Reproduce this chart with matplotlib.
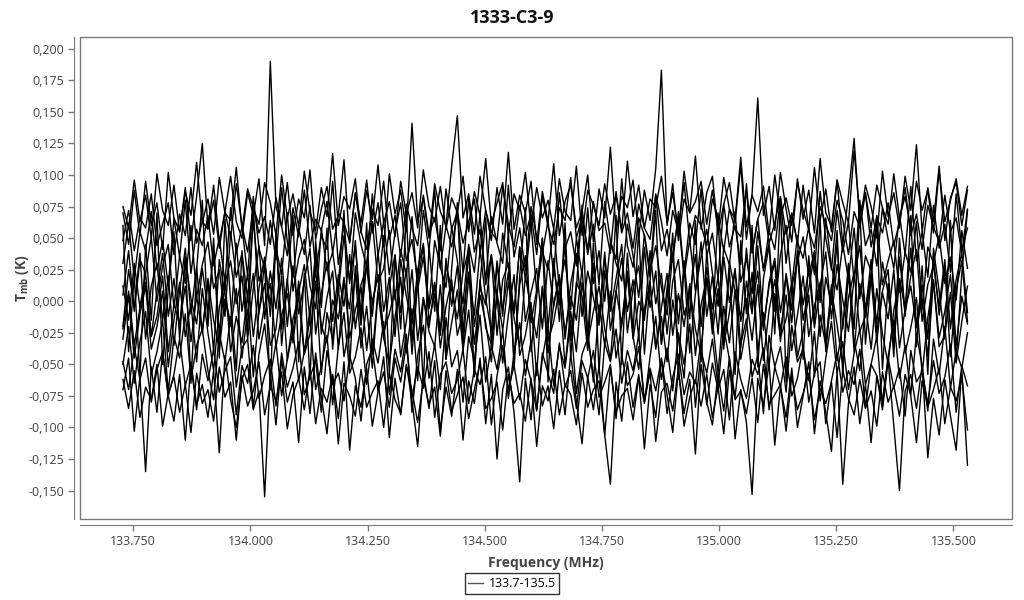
import matplotlib
matplotlib.use("Agg")
import matplotlib.pyplot as plt
from matplotlib.patches import Rectangle
from matplotlib.ticker import FuncFormatter
import numpy as np

plt.rcParams['font.family'] = ['Open Sans', 'DejaVu Sans']
plt.rcParams['mathtext.fontset'] = 'custom'
plt.rcParams['mathtext.rm'] = 'Open Sans'
plt.rcParams['mathtext.bf'] = 'Open Sans:bold'

# channel grid of the spectra (MHz)
f_start = 133.728
f_end = 135.530

# antenna temperature of each scan, in mK
scan1 = [70, 45, 88, 52, 95, 60, 78, 41, 102, 66, 55, 90, 48, 83, 125,
         58, 92, 47, 71, 99, 63, 50, 86, 68, 97, 44, 190, 75, 59, 94,
         52, 81, 66, 104, 49, 73, 91, 57, 68, 112, 46, 85, 62, 96, 54,
         78, 43, 101, 69, 88, 55, 141, 64, 82, 50, 93, 71, 60, 107, 147,
         66, 85, 53, 99, 72, 48, 90, 61, 118, 57, 84, 70, 95, 45, 87,
         63, 109, 52, 79, 92, 58, 71, 100, 47, 89, 66, 122, 55, 83, 74,
         96, 51, 88, 64, 105, 183, 60, 93, 48, 81, 70, 115, 57, 86, 99,
         53, 77, 94, 62, 108, 49, 85, 161, 68, 91, 56, 102, 73, 47, 97,
         65, 88, 54, 113, 70, 59, 96, 45, 84, 129, 61, 92, 75, 50, 103,
         67, 86, 58, 99, 72, 124, 55, 90, 63, 107, 48, 82, 94, 60, 88]
scan2 = [30, 62, 18, 55, 40, 71, 25, 48, 12, 66, 35, 80, 22, 57, 44,
         68, 28, 50, 15, 74, 38, 59, 20, 83, 42, 26, 64, 33, 90, 47,
         19, 58, 37, 76, 24, 52, 41, 95, 29, 61, 14, 70, 45, 27, 85,
         36, 63, 21, 54, 78, 32, 49, 17, 72, 40, 88, 26, 60, 43, 69,
         23, 81, 39, 57, 16, 67, 46, 30, 92, 35, 58, 24, 75, 51, 38,
         64, 20, 86, 42, 55, 28, 73, 37, 61, 13, 79, 48, 33, 97, 44,
         27, 66, 52, 19, 84, 40, 57, 31, 71, 22, 62, 45, 89, 36, 54,
         18, 77, 43, 60, 29, 93, 38, 65, 24, 56, 41, 82, 30, 69, 47,
         34, 59, 21, 87, 50, 25, 72, 39, 63, 16, 80, 44, 57, 28, 74,
         49, 26, 68, 37, 91, 32, 55, 19, 76, 42, 61, 23, 85, 40, 58]
scan3 = [5, 40, -8, 33, 22, 51, 0, 28, 45, -5, 36, 14, 60, 3, 29,
         47, 10, 25, -12, 55, 19, 38, 2, 64, 16, 31, -3, 42, 21, 70,
         8, 34, 49, 12, -6, 58, 24, 39, 6, 52, 17, 44, -10, 30, 63,
         15, 26, 56, 1, 41, 20, 67, 9, 35, -4, 48, 27, 11, 59, 32,
         -2, 45, 23, 69, 13, 37, 4, 54, 28, -9, 43, 18, 62, 7, 39,
         25, 57, 10, 33, -7, 50, 21, 74, 14, 40, 0, 47, 30, 16, 61,
         36, 3, 53, 24, 44, 11, -11, 38, 65, 19, 49, 8, 35, 57, 22,
         -4, 42, 29, 71, 15, 34, 6, 55, 26, 46, -8, 37, 60, 12, 31,
         51, 20, 40, -1, 66, 27, 9, 45, 17, 58, 2, 36, 24, 68, 13,
         32, 48, 7, 39, 23, 63, -6, 43, 30, 52, 14, 35, 1, 56, 26]
scan4 = [-20, 25, -5, 38, -30, 12, 30, -15, 20, -35, 8, 42, -10, 27, -25,
         15, -40, 33, 5, -18, 46, -8, 22, -28, 10, 35, -12, 52, -22, 18,
         -33, 7, 29, -14, 40, -26, 3, 24, -38, 16, -6, 48, -19, 31, -2,
         21, -30, 11, 37, -9, 26, -42, 14, 44, -16, 6, -27, 34, -4, 28,
         -36, 19, -11, 41, 2, -24, 32, -7, 23, -45, 13, 36, -17, 9, 50,
         -21, 27, -3, 45, -31, 15, 4, -39, 30, -13, 39, -23, 8, 34, -8,
         17, -29, 43, -5, 24, -34, 11, 38, -18, 28, -41, 6, 47, -12, 20,
         -26, 35, -1, 26, -37, 16, -10, 44, -20, 12, 31, -32, 22, -7, 40,
         -15, 10, 37, -28, 19, -3, 46, -22, 29, -40, 14, -9, 33, -25, 8,
         25, -35, 18, -6, 42, -19, 13, -30, 36, -11, 27, -44, 9, 32, -16]
scan5 = [-30, 5, -45, -10, 12, -38, -20, 8, -52, -15, 15, -28, -2, -48, 10,
         -25, -55, -5, 18, -40, -12, -33, 6, -60, -8, 14, -35, -22, 20, -47,
         -14, 3, -42, -26, 16, -58, -9, -31, 11, -44, -18, 22, -37, -4, -53,
         7, -29, -50, -13, 19, -41, -6, -63, 2, -24, -36, 13, -46, -17, 9,
         -39, -7, -56, 17, -21, -34, 4, -49, -11, 21, -43, -27, -1, -59, 12,
         -32, -16, 10, -51, -8, -40, 15, -23, -64, -3, -35, 8, -45, -19, 24,
         -28, -54, -6, 14, -37, -12, -48, 1, -30, -61, 11, -22, -42, 18, -15,
         -57, -4, -33, 9, -46, -20, 23, -39, -9, -52, 6, -29, -14, 16, -44,
         -24, 5, -60, -11, -35, 13, -47, -18, 20, -31, -55, -2, -38, 10, -26,
         -50, -7, 15, -41, -21, 3, -58, -13, 17, -36, -27, 7, -49, -16, 12]
scan6 = [-50, -20, -65, -32, -8, -58, -40, -15, -72, -28, -45, -10, -62, -35, -22,
         -55, -78, -25, -48, -12, -68, -37, -30, -85, -42, -18, -60, -33, -75, -46,
         -24, -63, -40, -14, -70, -52, -27, -82, -36, -9, -57, -44, -21, -66, -30,
         -49, -16, -74, -38, -56, -26, -88, -43, -19, -61, -34, -70, -13, -52, -39,
         -80, -28, -47, -11, -64, -35, -54, -23, -77, -41, -17, -59, -31, -86, -45,
         -20, -67, -36, -53, -15, -73, -42, -29, -58, -90, -33, -48, -22, -65, -39,
         -55, -26, -81, -44, -12, -62, -37, -71, -25, -50, -18, -84, -40, -57, -30,
         -68, -21, -46, -76, -34, -14, -60, -43, -89, -27, -52, -36, -72, -19, -48,
         -38, -63, -24, -79, -45, -16, -57, -32, -70, -41, -22, -66, -50, -28, -83,
         -44, -15, -61, -35, -74, -26, -51, -87, -30, -58, -20, -69, -39, -53, -25]
scan7 = [-70, -45, -103, -60, -135, -52, -88, -40, -75, -95, -58, -110, -48, -82, -66,
         -92, -55, -120, -43, -78, -100, -62, -50, -86, -71, -155, -57, -98, -46, -80,
         -64, -112, -52, -89, -41, -76, -105, -59, -93, -48, -118, -67, -84, -53, -99,
         -72, -44, -108, -61, -90, -50, -79, -115, -56, -85, -47, -102, -68, -91, -54,
         -110, -63, -81, -45, -97, -58, -125, -70, -52, -88, -143, -61, -94, -49, -83,
         -67, -101, -55, -90, -42, -79, -113, -60, -86, -51, -106, -145, -64, -95, -48,
         -84, -58, -117, -66, -92, -46, -74, -104, -55, -89, -62, -121, -50, -80, -98,
         -57, -87, -44, -109, -70, -96, -153, -61, -83, -49, -114, -68, -92, -53, -100,
         -75, -48, -105, -63, -88, -119, -56, -145, -81, -52, -97, -66, -112, -59, -86,
         -47, -99, -150, -71, -58, -85, -51, -124, -77, -106, -62, -91, -118, -54, -130]
scan8 = [60, -40, 20, -60, 45, -15, 70, -50, 10, 55, -30, 35, -65, 25, 80,
         -20, 50, -45, 65, 0, -55, 40, -25, 75, -10, 30, -70, 55, -35, 15,
         68, -48, 22, -62, 48, -5, 58, -38, 12, 72, -52, 28, -18, 62, -42,
         8, 52, -58, 36, -22, 70, -32, 18, -66, 44, -8, 60, -46, 26, 78,
         -28, 42, -60, 14, 66, -36, 30, -12, 56, -54, 20, 74, -40, 4, 50,
         -64, 34, -16, 62, -44, 10, 76, -30, 46, -56, 24, -6, 68, -50, 38,
         -24, 58, -42, 16, 72, -34, 2, 54, -62, 32, -14, 64, -48, 40, -20,
         70, -38, 26, -58, 48, -10, 60, -52, 18, 44, -26, 78, -64, 12, 52,
         -46, 36, -18, 66, -40, 6, 56, -60, 30, -22, 74, -34, 20, 62, -54,
         14, -44, 50, -12, 68, -36, 28, -58, 42, 8, -30, 64, -48, 22, 72]
scan9 = [75, 58, 96, 63, 84, 50, 101, 72, 60, 92, 55, 87, 68, 110, 62,
         81, 53, 98, 70, 64, 106, 57, 89, 74, 61, 94, 78, 52, 100, 66,
         85, 59, 103, 71, 56, 90, 67, 117, 60, 83, 73, 97, 54, 88, 65,
         108, 62, 79, 51, 95, 69, 86, 58, 104, 75, 63, 91, 57, 82, 70,
         99, 55, 87, 68, 113, 61, 78, 94, 53, 85, 72, 102, 59, 90, 66,
         80, 57, 97, 71, 64, 107, 52, 88, 76, 60, 93, 69, 84, 56, 111,
         67, 92, 58, 81, 74, 99, 62, 86, 54, 103, 70, 79, 95, 61, 88,
         56, 98, 73, 65, 114, 59, 84, 71, 91, 53, 100, 67, 82, 60, 94,
         72, 57, 106, 64, 89, 55, 96, 78, 62, 119, 69, 85, 58, 92, 74,
         61, 101, 66, 83, 57, 95, 72, 88, 54, 104, 63, 80, 97, 68, 91]
scan10 = [48, 72, 40, 66, 58, 85, 44, 61, 78, 37, 69, 52, 90, 46, 63,
          57, 80, 42, 71, 50, 93, 60, 39, 75, 54, 67, 45, 82, 59, 36,
          74, 51, 88, 43, 65, 56, 79, 38, 70, 62, 47, 86, 55, 41, 73,
          60, 95, 49, 68, 35, 77, 58, 44, 84, 53, 66, 40, 89, 57, 71,
          46, 63, 81, 39, 72, 55, 48, 91, 61, 43, 76, 52, 69, 37, 83,
          59, 45, 74, 64, 98, 50, 67, 41, 79, 56, 62, 38, 87, 54, 70,
          42, 77, 58, 49, 85, 63, 36, 72, 55, 94, 47, 68, 60, 44, 81,
          66, 40, 73, 57, 51, 88, 39, 65, 78, 46, 62, 83, 53, 70, 45,
          92, 56, 42, 75, 61, 48, 80, 64, 37, 71, 58, 86, 43, 67, 54,
          78, 44, 63, 90, 52, 69, 41, 76, 59, 47, 84, 55, 66, 38, 73]
scan11 = [-62, -85, -55, -92, -68, -78, -50, -99, -73, -60, -88, -66, -104, -57, -81,
          -70, -95, -52, -76, -64, -110, -59, -83, -71, -48, -90, -67, -79, -56, -101,
          -74, -61, -86, -53, -97, -69, -80, -58, -113, -65, -75, -91, -54, -84, -72,
          -63, -100, -57, -78, -89, -51, -71, -96, -62, -82, -68, -107, -55, -87, -74,
          -60, -93, -70, -49, -85, -77, -64, -102, -58, -81, -73, -95, -61, -115, -67,
          -79, -54, -90, -66, -74, -98, -57, -84, -70, -63, -106, -52, -88, -75, -69,
          -94, -60, -80, -56, -111, -72, -65, -87, -53, -99, -76, -62, -83, -58, -92,
          -68, -105, -55, -78, -71, -89, -61, -96, -50, -82, -74, -66, -103, -59, -86,
          -73, -57, -94, -69, -81, -64, -108, -54, -77, -90, -62, -85, -71, -99, -56,
          -80, -67, -91, -58, -75, -112, -63, -84, -70, -53, -97, -68, -79, -60, -102]
scan12 = [-48, -70, -36, -62, -45, -80, -54, -40, -75, -58, -30, -67, -50, -86, -42,
          -63, -38, -72, -55, -44, -90, -51, -65, -35, -77, -59, -46, -83, -41, -68,
          -53, -32, -74, -60, -47, -88, -39, -66, -57, -79, -43, -61, -95, -50, -37,
          -71, -56, -84, -45, -64, -34, -76, -52, -69, -40, -92, -58, -48, -73, -62,
          -38, -81, -54, -66, -44, -98, -59, -35, -70, -51, -78, -46, -63, -87, -41,
          -57, -73, -33, -68, -55, -85, -47, -61, -39, -76, -64, -50, -93, -43, -67,
          -58, -36, -79, -53, -71, -45, -89, -60, -42, -74, -56, -65, -31, -82, -49,
          -70, -54, -94, -40, -62, -77, -46, -58, -37, -86, -52, -68, -44, -75, -61,
          -35, -80, -57, -48, -97, -63, -41, -72, -55, -66, -38, -84, -50, -59, -78,
          -45, -69, -53, -91, -39, -64, -56, -81, -47, -73, -60, -34, -88, -51, -67]
scan13 = [12, -15, 30, -5, 22, -28, 8, 38, -12, 18, -22, 35, 2, -18, 26,
          -8, 40, -25, 14, 32, -2, 20, -30, 10, 44, -14, 24, -6, 34, -20,
          28, -10, 16, 42, -26, 6, 31, -16, 21, -4, 37, -22, 13, 27, -12,
          39, -8, 19, -28, 33, 4, -18, 25, 46, -6, 15, -24, 29, 9, -14,
          23, 41, -20, 11, -3, 36, -27, 17, 30, -10, 43, -16, 7, 26, -22,
          32, -4, 21, -30, 14, 38, -12, 24, 3, -19, 35, -8, 18, 45, -25,
          10, 28, -15, 40, -2, 22, -26, 16, 33, -11, 5, 37, -20, 27, -6,
          19, -29, 31, 8, -13, 42, -5, 24, -23, 15, 34, -9, 20, -17, 36,
          -3, 26, -21, 12, 39, -14, 29, 1, -24, 18, 44, -7, 23, -18, 31,
          6, -27, 35, -10, 20, 41, -16, 13, 28, -4, 33, -22, 17, 38, -9]
scan14 = [-22, 8, -35, -5, 15, -28, -12, 20, -40, -2, -18, 12, -32, 4, -25,
          18, -15, -38, 2, -20, 10, -45, -8, 22, -30, -3, 14, -36, -11, 6,
          -26, 16, -42, -6, 24, -19, -33, 1, -14, 19, -29, -7, 11, -39, -1,
          21, -24, -10, 9, -44, -16, 25, -31, 3, -21, 13, -37, -4, 17, -27,
          -9, 23, -34, 5, -17, -48, 7, -23, 15, -13, -36, 20, -6, -29, 11,
          -41, -2, 18, -25, 4, -15, 26, -33, -8, 12, -22, -46, 8, -18, 21,
          -30, 0, -12, 16, -38, -5, 22, -27, 6, -20, 14, -43, -3, 19, -26,
          10, -35, -9, 24, -16, 2, -31, 13, -47, -7, 17, -23, 5, -39, -11,
          20, -28, -4, 15, -34, 9, -19, -50, 3, 23, -24, -12, 18, -32, 7,
          -14, 25, -37, -6, 12, -21, 1, -44, 16, -29, -8, 21, -35, 4, -18]

scans = [scan1, scan2, scan3, scan4, scan5, scan6, scan7,
         scan8, scan9, scan10, scan11, scan12, scan13, scan14]
series_name = "133.7-135.5"

x_ticks = [133.75, 134.0, 134.25, 134.5, 134.75, 135.0, 135.25, 135.5]
y_ticks = [-0.150, -0.125, -0.100, -0.075, -0.050, -0.025, 0.0,
           0.025, 0.050, 0.075, 0.100, 0.125, 0.150, 0.175, 0.200]

fig = plt.figure(figsize=(10.24, 6.0), dpi=100)
ax = fig.add_axes([80 / 1024, 81 / 600, 932 / 1024, 482 / 600])

for k, scan in enumerate(scans):
    t_mb = np.array(scan) / 1000.0
    freq = np.linspace(f_start, f_end, len(t_mb))
    ax.plot(freq, t_mb, color="black", lw=1.0,
            label=series_name if k == 0 else None)

ax.set_xlim(133.6364, 135.625)
ax.set_ylim(-0.1725, 0.2093)
ax.set_xticks(x_ticks)
ax.set_yticks(y_ticks)
ax.xaxis.set_major_formatter(FuncFormatter(lambda v, p: f"{v:.3f}"))
ax.yaxis.set_major_formatter(FuncFormatter(lambda v, p: f"{v:.3f}".replace(".", ",")))

grey = "#7a7a7a"
for side in ["top", "right"]:
    ax.spines[side].set_visible(False)
for side in ["left", "bottom"]:
    ax.spines[side].set_position(("outward", 4))
    ax.spines[side].set_color(grey)
ax.add_patch(Rectangle((0, 0), 1, 1, transform=ax.transAxes, fill=False,
                       edgecolor=grey, lw=1, clip_on=False, zorder=5))
ax.tick_params(colors=grey, labelcolor="#444444", labelsize=9, length=4, width=1)

ax.set_xlabel("Frequency (MHz)", fontsize=10, fontweight="bold", color="#444444", labelpad=6)
ax.set_ylabel(r"$\mathbf{T_{mb}}$ (K)", fontsize=10, fontweight="bold", color="#444444", labelpad=-2)
fig.suptitle("1333-C3-9", x=0.5, y=0.985, fontsize=13, fontweight="bold", color="#111111")

leg = fig.legend(loc="lower center", bbox_to_anchor=(0.5, 0.0), fontsize=9,
                 frameon=True, fancybox=False, handlelength=1.2, borderpad=0.3,
                 handletextpad=0.4)
leg.get_frame().set_edgecolor("black")
leg.get_frame().set_linewidth(1)
leg.get_lines()[0].set_color("#555555")

plt.savefig("out.png", dpi=100)
